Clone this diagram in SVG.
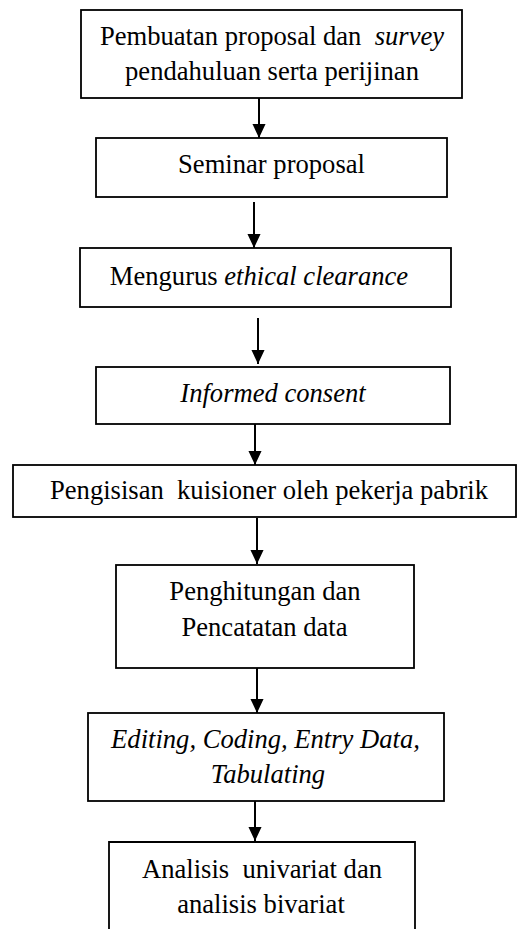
<svg xmlns="http://www.w3.org/2000/svg" width="517" height="929" viewBox="0 0 517 929">
<style>
.box{fill:#fff;stroke:#000;stroke-width:1.8}
.t{font-family:'Liberation Serif',Tinos,'DejaVu Serif',serif;font-size:26.6px;fill:#000;text-anchor:middle;white-space:pre}
.i{font-style:italic}
.c{stroke:#000;stroke-width:2;fill:none}
</style>
<defs>
<marker id="ah" markerUnits="userSpaceOnUse" markerWidth="14" markerHeight="15" viewBox="0 0 15 14" refX="15" refY="7" orient="auto">
<path d="M0,0 L15,7 L0,14 z" fill="#000"/>
</marker>
</defs>
<rect width="517" height="929" fill="#fff"/>
<g id="connectors">
<line class="c" x1="259" y1="98" x2="259" y2="138" marker-end="url(#ah)"/>
<line class="c" x1="254" y1="202" x2="254" y2="248" marker-end="url(#ah)"/>
<line class="c" x1="258" y1="318" x2="258" y2="364" marker-end="url(#ah)"/>
<line class="c" x1="255" y1="424" x2="255" y2="465" marker-end="url(#ah)"/>
<line class="c" x1="257" y1="518" x2="257" y2="564" marker-end="url(#ah)"/>
<line class="c" x1="257" y1="668" x2="257" y2="713" marker-end="url(#ah)"/>
<line class="c" x1="255" y1="801" x2="255" y2="841" marker-end="url(#ah)"/>
</g>
<g id="n1">
<rect class="box" x="81" y="10" width="381" height="88"/>
<text class="t" x="272" y="45" xml:space="preserve">Pembuatan proposal dan  <tspan class="i">survey</tspan></text>
<text class="t" x="272" y="80">pendahuluan serta perijinan</text>
</g>
<g id="n2">
<rect class="box" x="96" y="138" width="351" height="59"/>
<text class="t" x="271.5" y="173">Seminar proposal</text>
</g>
<g id="n3">
<rect class="box" x="80" y="248" width="371" height="59"/>
<text class="t" x="259" y="285">Mengurus <tspan class="i">ethical clearance</tspan></text>
</g>
<g id="n4">
<rect class="box" x="96" y="367" width="354" height="57"/>
<text class="t i" x="273" y="402">Informed consent</text>
</g>
<g id="n5">
<rect class="box" x="13" y="465" width="503" height="52"/>
<text class="t" x="269" y="499" xml:space="preserve">Pengisisan  kuisioner oleh pekerja pabrik</text>
</g>
<g id="n6">
<rect class="box" x="116" y="565" width="298" height="103"/>
<text class="t" x="265" y="600">Penghitungan dan</text>
<text class="t" x="264.5" y="636">Pencatatan data</text>
</g>
<g id="n7">
<rect class="box" x="88" y="713" width="356" height="88"/>
<text class="t i" x="265.5" y="748">Editing, Coding, Entry Data,</text>
<text class="t i" x="268" y="783">Tabulating</text>
</g>
<g id="n8">
<path class="box" d="M109,929 V842 H415 V929"/>
<text class="t" x="262" y="878" xml:space="preserve">Analisis  univariat dan</text>
<text class="t" x="261" y="913">analisis bivariat</text>
</g>
</svg>
